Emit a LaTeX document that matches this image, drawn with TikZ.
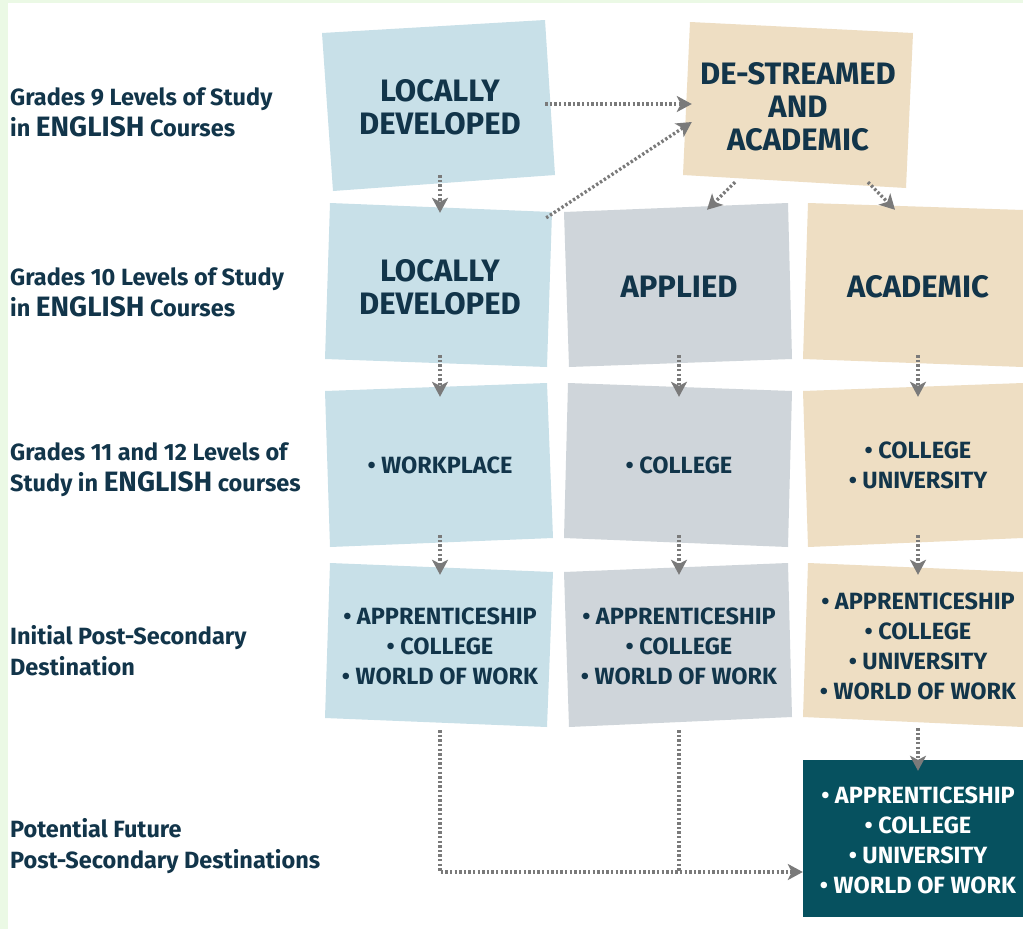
\documentclass[tikz,border=0pt]{standalone}
\usepackage{fontspec}
\setmainfont{Fira Sans}
\usetikzlibrary{arrows.meta,calc}
\definecolor{bgreen}{HTML}{EBF9E5}
\definecolor{lblue}{HTML}{C8E0E8}
\definecolor{lgray}{HTML}{CFD5DA}
\definecolor{ltan}{HTML}{EEDEC3}
\definecolor{dteal}{HTML}{06515F}
\definecolor{ink}{HTML}{12354A}
\definecolor{arrgray}{HTML}{7A7A7A}
\tikzset{
  boxnode/.style={minimum width=220pt,minimum height=150pt,inner sep=0pt,align=center,text=ink},
  bigtxt/.style={font=\bfseries\fontsize{31}{33}\selectfont},
  smalltxt/.style={font=\bfseries\fontsize{23.5}{30}\selectfont},
  rowlabel/.style={anchor=west,inner sep=0pt,align=left,text=ink,font=\bfseries\fontsize{23.5}{31}\selectfont},
  conn/.style={draw=arrgray,line width=3.3pt,dash pattern=on 2.4pt off 2.2pt},
  arr/.style={conn,-{Stealth[length=15pt,width=16pt,inset=4pt]}},
}
\newcommand{\eng}{{\fontsize{28}{31}\selectfont ENGLISH}}
\begin{document}
\begin{tikzpicture}[x=1pt,y=-1pt]
\useasboundingbox (0,0) rectangle (1023,929);
\fill[bgreen] (0,0) rectangle (1023,929);
\fill[white] (8,3) rectangle (1023,929);
% box fills
\fill[lblue] (322,33) -- (545,20) -- (555,175) -- (333,191) -- cycle;
\fill[ltan] (690,22) -- (913,33) -- (906,188) -- (683,175) -- cycle;
\fill[lblue] (330,203) -- (552,212) -- (547,367) -- (325,359) -- cycle;
\fill[lgray] (564,212) -- (788,203) -- (792,359) -- (569,367) -- cycle;
\fill[ltan] (808,203) -- (1023,210) -- (1023,367) -- (803,359) -- cycle;
\fill[lblue] (325,391) -- (547,383) -- (553,538) -- (330,547) -- cycle;
\fill[lgray] (568,383) -- (792,391) -- (788,547) -- (564,538) -- cycle;
\fill[ltan] (803,391) -- (1023,383) -- (1023,538) -- (808,547) -- cycle;
\fill[lblue] (330,563) -- (553,572) -- (547,727) -- (325,718) -- cycle;
\fill[lgray] (564,572) -- (788,563) -- (792,717) -- (569,727) -- cycle;
\fill[ltan] (808,563) -- (1023,572) -- (1023,727) -- (803,717) -- cycle;
\fill[dteal] (803,760) rectangle (1023,917);
% row labels
\node[rowlabel] (lab1) at (10,112) {Grades 9 Levels of Study\\in \eng{} Courses};
\node[rowlabel] (lab2) at (10,292) {Grades 10 Levels of Study\\in \eng{} Courses};
\node[rowlabel] (lab3) at (10,470) {Grades 11 and 12 Levels of\\Study in \eng{} courses};
\node[rowlabel] (lab4) at (10,651) {Initial Post-Secondary\\Destination};
\node[rowlabel] (lab5) at (10,846) {Potential Future\\Post-Secondary Destinations};
% boxes
\node[boxnode,bigtxt] (ld9) at (440,107) {LOCALLY\\DEVELOPED};
\node[boxnode,bigtxt] (ds) at (798,107) {DE-STREAMED\\AND\\ACADEMIC};
\node[boxnode,bigtxt] (ld10) at (440,287) {LOCALLY\\DEVELOPED};
\node[boxnode,bigtxt] (ap10) at (679,287) {APPLIED};
\node[boxnode,bigtxt] (ac10) at (918,287) {ACADEMIC};
\node[boxnode,smalltxt] (ld3) at (440,465) {• WORKPLACE};
\node[boxnode,smalltxt] (ap3) at (679,465) {• COLLEGE};
\node[boxnode,smalltxt] (ac3) at (918,465) {• COLLEGE\\• UNIVERSITY};
\node[boxnode,smalltxt] (ld4) at (440,646) {• APPRENTICESHIP\\• COLLEGE\\• WORLD OF WORK};
\node[boxnode,smalltxt] (ap4) at (679,646) {• APPRENTICESHIP\\• COLLEGE\\• WORLD OF WORK};
\node[boxnode,smalltxt] (ac4) at (918,646) {• APPRENTICESHIP\\• COLLEGE\\• UNIVERSITY\\• WORLD OF WORK};
\node[boxnode,smalltxt,minimum width=230pt,text=white] (dk) at (918,840) {• APPRENTICESHIP\\• COLLEGE\\• UNIVERSITY\\• WORLD OF WORK};
% connectors
\draw[arr] ([xshift=-5pt,yshift=3pt]ld9.east) -- ([xshift=4pt,yshift=3pt]ds.west);
\draw[arr] ([xshift=-4pt,yshift=-6pt]ld10.north east) -- ([xshift=4pt,yshift=-15pt]ds.west);
\draw[arr] ([yshift=7pt]ld9.south) -- ([yshift=-1pt]ld10.north);
\draw[arr] ([xshift=-63pt]ds.south) -- ([xshift=28pt,yshift=2pt]ap10.north);
\draw[arr] ([xshift=70pt]ds.south) -- ([xshift=-23pt,yshift=2pt]ac10.north);
\draw[arr] ([yshift=7pt]ld10.south) -- ([yshift=-7pt]ld3.north);
\draw[arr] ([yshift=7pt]ap10.south) -- ([yshift=-7pt]ap3.north);
\draw[arr] ([yshift=7pt]ac10.south) -- ([yshift=-7pt]ac3.north);
\draw[arr] ([yshift=5pt]ld3.south) -- ([yshift=-4pt]ld4.north);
\draw[arr] ([yshift=5pt]ap3.south) -- ([yshift=-4pt]ap4.north);
\draw[arr] ([yshift=5pt]ac3.south) -- ([yshift=-4pt]ac4.north);
\draw[arr] ([yshift=-7pt]ac4.south) -- ([yshift=-6pt]dk.north);
\coordinate (tip) at ([yshift=-32pt]dk.west);
\draw[arr] ([yshift=-9pt]ld4.south) |- (tip);
\draw[conn] ([yshift=-9pt]ap4.south) -- (ap4.south |- tip);
\end{tikzpicture}
\end{document}
